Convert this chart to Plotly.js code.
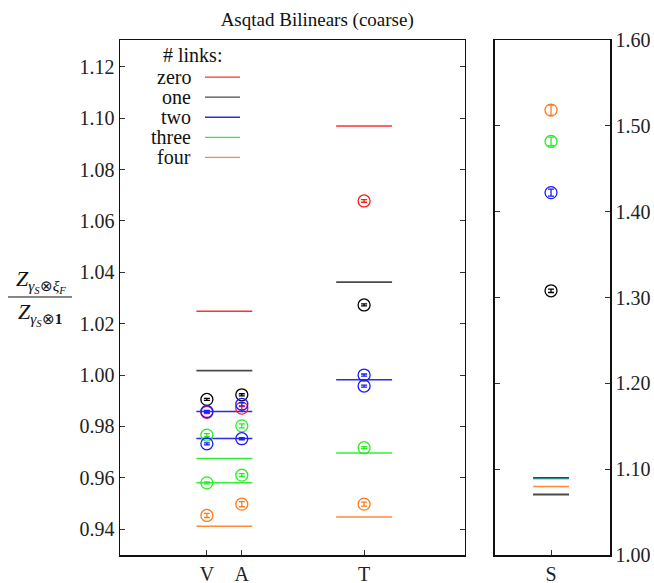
<!DOCTYPE html>
<html>
<head>
<meta charset="utf-8">
<script src="https://cdn.plot.ly/plotly-3.0.1.min.js"></script>
<style>
  html, body { margin: 0; padding: 0; background: #fff; }
  #chart { width: 654px; height: 583px; }
</style>
</head>
<body>
<div id="chart"></div>
<script>
// ---- data ---------------------------------------------------------------
const linkNames = ['zero', 'one', 'two', 'three', 'four'];
const linkColors = ['#ff1a1a', '#000000', '#1a1aff', '#22ee22', '#ff7a1a'];
const lineColors = ['#ff3030', '#4a4a4a', '#2a2ae8', '#33ee33', '#ff8a3a'];

// measured ratios (operator, value, error) for vector / axial / tensor
const zeroOps = ['V', 'A', 'T'];
const zeroVals = [0.9855, 0.9871, 1.0678];
const zeroErrs = [0.0005, 0.0006, 0.0005];

const oneOps = ['V', 'A', 'T'];
const oneVals = [0.9905, 0.9923, 1.0273];
const oneErrs = [0.0004, 0.0004, 0.0004];

const twoOps = ['V', 'V', 'A', 'A', 'T', 'T'];
const twoVals = [0.9858, 0.9732, 0.9886, 0.9752, 1.0000, 0.9957];
const twoErrs = [0.0004, 0.0004, 0.0006, 0.0004, 0.0004, 0.0004];

const threeOps = ['V', 'V', 'A', 'A', 'T'];
const threeVals = [0.9766, 0.9580, 0.9802, 0.9610, 0.9717];
const threeErrs = [0.0006, 0.0004, 0.0008, 0.0006, 0.0004];

const fourOps = ['V', 'A', 'T'];
const fourVals = [0.9453, 0.9497, 0.9497];
const fourErrs = [0.0008, 0.0010, 0.0008];

// scalar channel (right panel): one .. four links
const scalarLinks = ['one', 'two', 'three', 'four'];
const scalarVals = [1.3078, 1.4222, 1.4818, 1.5183];
const scalarErrs = [0.0020, 0.0040, 0.0050, 0.0060];

// perturbative predictions (horizontal lines)
const vaPredLinks = ['zero', 'one', 'two', 'two', 'three', 'three', 'four'];
const vaPredVals = [1.0248, 1.0017, 0.9858, 0.9753, 0.9675, 0.9580, 0.9411];
const tPredLinks = ['zero', 'one', 'two', 'three', 'four'];
const tPredVals = [1.0970, 1.0362, 0.9982, 0.9696, 0.9447];
const sPredLinks = ['three', 'two', 'four', 'one'];
const sPredVals = [1.0889, 1.0899, 1.0798, 1.0705];

// ---- layout helpers ---------------------------------------------------------
const opX = { V: 1, A: 2, T: 5.5, S: 0 };
const groupCenter = { VA: 1.5, T: 5.5, S: 0 };
const halfLeft = 0.8, halfRight = 0.32;
const colorOf = name => linkColors[linkNames.indexOf(name)];
const lineColorOf = name => lineColors[linkNames.indexOf(name)];

const traces = [];

function predLine(center, half, value, link, xa, ya) {
  traces.push({
    type: 'scatter', mode: 'lines',
    x: [center - half, center + half], y: [value, value],
    xaxis: xa, yaxis: ya,
    line: { color: lineColorOf(link), width: link === 'one' ? 1.8 : 1.5 },
    hoverinfo: 'skip', showlegend: false
  });
}
vaPredVals.forEach((v, i) => predLine(groupCenter.VA, halfLeft, v, vaPredLinks[i], 'x', 'y'));
tPredVals.forEach((v, i) => predLine(groupCenter.T, halfLeft, v, tPredLinks[i], 'x', 'y'));
sPredVals.forEach((v, i) => predLine(groupCenter.S, halfRight, v, sPredLinks[i], 'x2', 'y2'));

function points(ops, vals, errs, link, xa, ya) {
  const c = colorOf(link);
  traces.push({
    type: 'scatter', mode: 'markers',
    x: ops.map(o => opX[o]), y: vals,
    xaxis: xa, yaxis: ya,
    marker: { symbol: 'circle-open', size: 12, color: c, line: { width: 1.3, color: c } },
    error_y: { type: 'data', array: errs, visible: true, thickness: 1.3, width: 3, color: c },
    name: link, showlegend: false
  });
}
points(zeroOps, zeroVals, zeroErrs, 'zero', 'x', 'y');
points(oneOps, oneVals, oneErrs, 'one', 'x', 'y');
points(threeOps, threeVals, threeErrs, 'three', 'x', 'y');
points(twoOps, twoVals, twoErrs, 'two', 'x', 'y');
points(fourOps, fourVals, fourErrs, 'four', 'x', 'y');
scalarLinks.forEach((l, i) =>
  points(['S'], [scalarVals[i]], [scalarErrs[i]], l, 'x2', 'y2'));

// ---- key (text on the left, line sample on the right) ----------------------
const serif = 'Liberation Serif';
const annotations = [];
const shapes = [];
const keyRows = [0.928, 0.889, 0.850, 0.811, 0.772];
annotations.push({
  xref: 'paper', yref: 'paper', x: 0.147, y: 0.971, xanchor: 'center', yanchor: 'middle',
  text: '# links:', showarrow: false, font: { family: serif, size: 20, color: '#111' }
});
linkNames.forEach((n, i) => {
  annotations.push({
    xref: 'paper', yref: 'paper', x: 0.149, y: keyRows[i], xanchor: 'right', yanchor: 'middle',
    text: n, showarrow: false, font: { family: serif, size: 20, color: '#111' }
  });
  shapes.push({
    type: 'line', xref: 'paper', yref: 'paper',
    x0: 0.1735, x1: 0.245, y0: keyRows[i], y1: keyRows[i],
    line: { color: lineColors[i], width: 1.3 }
  });
});

// ---- y-axis label as a stacked fraction ------------------------------------
annotations.push({
  xref: 'paper', yref: 'paper', x: -0.161, y: 0.532, xanchor: 'center', yanchor: 'middle',
  text: '<i>Z</i><sub><i>γ</i><sub><i>S</i></sub>⊗<i>ξ</i><sub><i>F</i></sub></sub>',
  showarrow: false, font: { family: serif, size: 22, color: '#111' }
});
annotations.push({
  xref: 'paper', yref: 'paper', x: -0.164, y: 0.467, xanchor: 'center', yanchor: 'middle',
  text: '<i>Z</i><sub><i>γ</i><sub><i>S</i></sub>⊗<b>1</b></sub>',
  showarrow: false, font: { family: serif, size: 22, color: '#111' }
});
shapes.push({
  type: 'line', xref: 'paper', yref: 'paper',
  x0: -0.2286, x1: -0.098, y0: 0.501, y1: 0.501,
  line: { color: '#111', width: 1 }
});

const axisCommon = {
  showline: true, linecolor: '#111', linewidth: 1.5,
  ticks: 'inside', ticklen: 5, tickcolor: '#333', tickwidth: 1,
  showgrid: false, zeroline: false,
  tickfont: { family: serif, size: 20, color: '#222' }
};

const layout = {
  width: 654, height: 583,
  margin: { l: 120, r: 44, t: 40, b: 28 },
  paper_bgcolor: '#fff', plot_bgcolor: '#fff',
  showlegend: false,
  font: { family: serif },
  title: {
    text: 'Asqtad Bilinears (coarse)', x: 0.485, xanchor: 'center', y: 0.967, yanchor: 'middle',
    font: { family: serif, size: 19, color: '#111' }
  },
  xaxis: Object.assign({}, axisCommon, {
    domain: [0, 0.704], range: [-1.486, 8.386], mirror: true,
    tickvals: [opX.V, opX.A, opX.T], ticktext: ['V', 'A', 'T'], fixedrange: true
  }),
  yaxis: Object.assign({}, axisCommon, {
    range: [0.9299, 1.1305], mirror: 'ticks',
    tickvals: [0.94, 0.96, 0.98, 1.00, 1.02, 1.04, 1.06, 1.08, 1.10, 1.12],
    tickformat: '.2f', fixedrange: true
  }),
  xaxis2: Object.assign({}, axisCommon, {
    domain: [0.765, 1], range: [-1, 1.05], anchor: 'y2', mirror: true,
    tickvals: [opX.S], ticktext: ['S'], fixedrange: true
  }),
  yaxis2: Object.assign({}, axisCommon, {
    range: [1.0, 1.6], anchor: 'x2', side: 'right', mirror: 'ticks',
    tickvals: [1.0, 1.1, 1.2, 1.3, 1.4, 1.5, 1.6],
    tickformat: '.2f', fixedrange: true
  }),
  annotations: annotations,
  shapes: shapes
};

Plotly.newPlot('chart', traces, layout, { displayModeBar: false, staticPlot: true });
</script>
</body>
</html>
